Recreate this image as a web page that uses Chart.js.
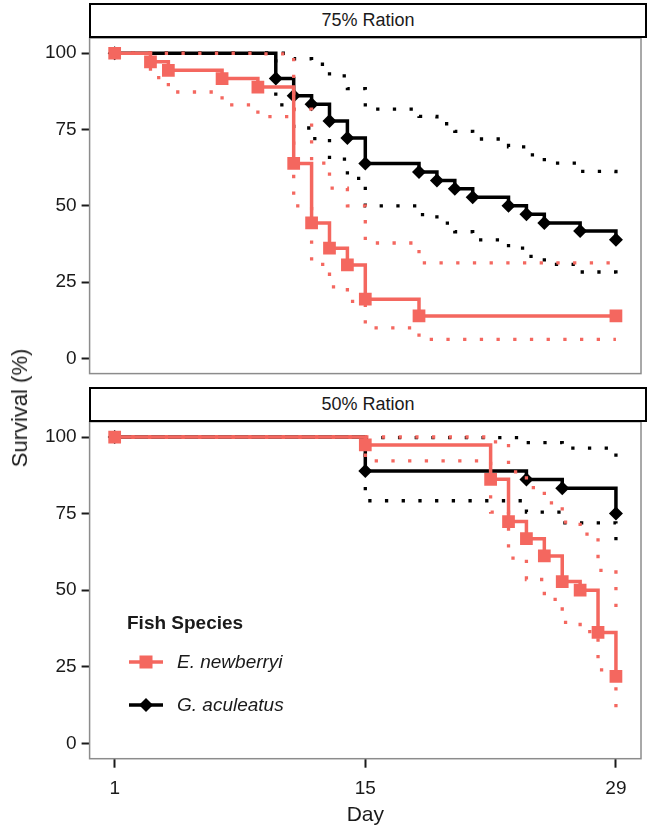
<!DOCTYPE html>
<html>
<head>
<meta charset="utf-8">
<title>Survival by ration</title>
<script src="https://cdn.jsdelivr.net/npm/chart.js@4.4.1/dist/chart.umd.min.js"></script>
<style>
    html, body { margin: 0; padding: 0; background: #fff; }
    #fig { position: relative; width: 650px; height: 832px; overflow: hidden;
           font-family: "Liberation Sans", Arial, Helvetica, sans-serif; color: #1a1a1a; }
    #fig canvas { position: absolute; left: 0; }
    #c75 { top: 0; }
    #c50 { top: 400px; }
    .strip { position: absolute; left: 89px; width: 554px; height: 31px; line-height: 31px;
             border: 2px solid #000; background: #fff; text-align: center; font-size: 18px; z-index: 2; }
    #strip75 { top: 3px; }
    #strip50 { top: 387px; }
    #ytitle { position: absolute; left: 20px; top: 408px; font-size: 22px; white-space: nowrap;
              transform: translate(-50%, -50%) rotate(-90deg); }
    .lg-title { position: absolute; left: 127px; top: 608px; font-size: 19px; font-weight: bold;
                line-height: 30px; z-index: 2; }
    .lg-row { position: absolute; left: 127px; height: 30px; line-height: 30px; z-index: 2;
              font-size: 19px; font-style: italic; white-space: nowrap; }
    .lg-row svg { position: absolute; left: 0; top: 5px; }
    .lg-row span { position: absolute; left: 50px; top: 0; }
</style>
</head>
<body>
<div id="fig">
    <canvas id="c75" width="650" height="390"></canvas>
    <canvas id="c50" width="650" height="432"></canvas>
    <div class="strip" id="strip75"></div>
    <div class="strip" id="strip50"></div>
    <div id="ytitle">Survival (%)</div>
    <div id="legend"></div>
</div>
<script>
"use strict";

// ─── Data ────────────────────────────────────────────────────────────────────

const PANELS  = ["75% Ration", "50% Ration"];
const SPECIES = ["E. newberryi", "G. aculeatus"];
const X_TICKS = [1, 15, 29];
const Y_TICKS = [0, 25, 50, 75, 100];

// 75% ration, E. newberryi
const en75Days  = [1, 3, 4, 7, 9, 11, 12, 13, 14, 15, 18, 29];
const en75Surv  = [100, 97.2, 94.4, 91.7, 88.9, 63.9, 44.4, 36.1, 30.6, 19.4, 13.9, 13.9];
const en75Lower = [100, 92.0, 87.3, 83.1, 79.2, 50.0, 30.8, 23.4, 18.7, 10.0, 6.2, 6.2];
const en75Upper = [100, 100, 100, 100, 99.8, 81.7, 64.0, 55.8, 50.0, 37.8, 31.3, 31.3];

// 75% ration, G. aculeatus
const ga75Days  = [1, 10, 11, 12, 13, 14, 15, 18, 19, 20, 21, 23, 24, 25, 27, 29];
const ga75Surv  = [100, 91.7, 86.1, 83.3, 77.8, 72.2, 63.9, 61.1, 58.3, 55.6, 52.8, 50.0, 47.2, 44.4, 41.7, 38.9];
const ga75Lower = [100, 83.1, 75.5, 72.0, 65.3, 59.0, 50.0, 47.1, 44.3, 41.5, 38.8, 36.1, 33.4, 30.8, 28.3, 25.8];
const ga75Upper = [100, 100, 98.2, 96.4, 92.6, 88.4, 81.7, 79.3, 76.9, 74.4, 71.9, 69.3, 66.7, 64.0, 61.3, 58.6];

// 50% ration, E. newberryi
const en50Days  = [1, 15, 22, 23, 24, 25, 26, 27, 28, 29];
const en50Surv  = [100, 97.4, 86.2, 72.4, 66.8, 61.2, 52.8, 50.0, 36.2, 21.9];
const en50Lower = [100, 92.2, 75.5, 60.5, 53.5, 47.0, 39.5, 36.5, 24.0, 11.8];
const en50Upper = [100, 100, 98.4, 88.6, 83.5, 78.5, 72.2, 68.3, 56.5, 40.5];

// 50% ration, G. aculeatus
const ga50Days  = [1, 15, 24, 26, 29];
const ga50Surv  = [100, 88.9, 86.1, 83.3, 75.0];
const ga50Lower = [100, 79.2, 75.5, 72.0, 62.1];
const ga50Upper = [100, 99.8, 98.2, 96.4, 90.6];

const COLORS = ["#F4675F", "#000000"];
const SHAPES = ["rect", "rectRot"];
const RADII  = [9, 7];

// ─── Helpers ─────────────────────────────────────────────────────────────────

const FONT = "'Liberation Sans', Arial, Helvetica, sans-serif";

function pts(days, vals) {
    return days.map(function(d, i) { return { x: d, y: vals[i] }; });
}

function survLine(s, days, vals) {
    return {
        label:                SPECIES[s],
        data:                 pts(days, vals),
        stepped:              "before",
        borderColor:          COLORS[s],
        backgroundColor:      COLORS[s],
        borderWidth:          3.5,
        pointStyle:           SHAPES[s],
        pointRadius:          RADII[s],
        pointBorderWidth:     0,
        pointBackgroundColor: COLORS[s],
        fill:                 false
    };
}

function ciLine(s, days, vals) {
    return {
        label:          SPECIES[s] + " CI",
        data:           pts(days, vals),
        stepped:        "before",
        borderColor:    COLORS[s],
        borderWidth:    3.3,
        borderDash:     [3.3, 13.4],
        borderCapStyle: "butt",
        pointRadius:    0,
        fill:           false
    };
}

// grey frame round the panel
const panelBorder = {
    id: "panelBorder",
    afterDraw: function(chart) {
        const a = chart.chartArea, ctx = chart.ctx;
        ctx.save();
        ctx.strokeStyle = "#8c8c8c";
        ctx.lineWidth = 1.5;
        ctx.strokeRect(a.left, a.top, a.right - a.left, a.bottom - a.top);
        ctx.restore();
    }
};

function makePanel(canvasId, datasets, showX, padding) {
    const tickFont = { family: FONT, size: 19 };
    return new Chart(document.getElementById(canvasId), {
        type: "line",
        data: { datasets: datasets },
        plugins: [panelBorder],
        options: {
            responsive: false,
            animation: false,
            events: [],
            layout: { padding: padding },
            plugins: { legend: { display: false }, tooltip: { enabled: false } },
            scales: {
                x: {
                    type: "linear",
                    display: showX,
                    min: -0.4,
                    max: 30.4,
                    afterBuildTicks: function(axis) { axis.ticks = X_TICKS.map(function(v) { return { value: v }; }); },
                    afterFit: function(axis) { if (showX) { axis.height = 73.3; } },
                    grid: { drawOnChartArea: false, drawTicks: true, tickLength: 9, tickWidth: 2, tickColor: "#1a1a1a" },
                    border: { display: false },
                    ticks: { color: "#1a1a1a", font: tickFont, padding: 10, maxRotation: 0, autoSkip: false },
                    title: { display: true, text: "Day", color: "#1a1a1a", font: { family: FONT, size: 21 },
                             padding: { top: 0, bottom: 4 } }
                },
                y: {
                    min: -5,
                    max: 105,
                    afterBuildTicks: function(axis) { axis.ticks = Y_TICKS.map(function(v) { return { value: v }; }); },
                    afterFit: function(axis) { axis.width = 89.6; },
                    grid: { drawOnChartArea: false, drawTicks: true, tickLength: 8, tickWidth: 2, tickColor: "#1a1a1a" },
                    border: { display: false },
                    ticks: { color: "#1a1a1a", font: tickFont, padding: 5, autoSkip: false }
                }
            }
        }
    });
}

// ─── Panels ──────────────────────────────────────────────────────────────────

makePanel("c75", [
    survLine(0, en75Days, en75Surv),
    ciLine(0, en75Days, en75Upper),
    ciLine(0, en75Days, en75Lower),
    ciLine(1, ga75Days, ga75Upper),
    ciLine(1, ga75Days, ga75Lower),
    survLine(1, ga75Days, ga75Surv)
], false, { top: 38, bottom: 14.7, left: 0, right: 2.6 });

makePanel("c50", [
    survLine(0, en50Days, en50Surv),
    ciLine(0, en50Days, en50Upper),
    ciLine(0, en50Days, en50Lower),
    ciLine(1, ga50Days, ga50Upper),
    ciLine(1, ga50Days, ga50Lower),
    survLine(1, ga50Days, ga50Surv)
], true, { top: 21.7, bottom: 0, left: 0, right: 2.6 });

document.getElementById("strip75").textContent = PANELS[0];
document.getElementById("strip50").textContent = PANELS[1];

// ─── Legend ──────────────────────────────────────────────────────────────────

(function buildLegend() {
    const h = [];
    h.push('<div class="lg-title">Fish Species</div>');
    SPECIES.forEach(function(name, i) {
        const c = COLORS[i];
        const mark = SHAPES[i] === "rect"
            ? '<rect x="12.5" y="3.5" width="13" height="13" fill="' + c + '"/>'
            : '<polygon points="19,3 26,10 19,17 12,10" fill="' + c + '"/>';
        h.push('<div class="lg-row" style="top:' + (647 + i * 43) + 'px">' +
               '<svg width="38" height="20"><line x1="2" y1="10" x2="36" y2="10" stroke="' + c +
               '" stroke-width="3.5"/>' + mark + '</svg><span>' + name + '</span></div>');
    });
    document.getElementById("legend").innerHTML = h.join("");
})();
</script>
</body>
</html>
